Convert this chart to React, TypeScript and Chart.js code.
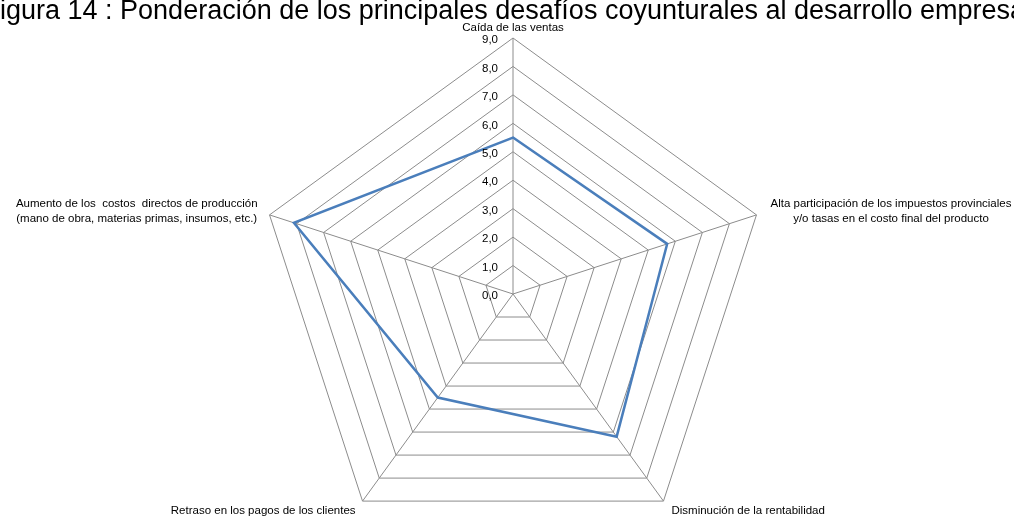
import React, { useEffect, useRef } from "react";
import { Chart, registerables } from "chart.js";

Chart.register(...registerables);

// Heading of the figure (the canvas edge crops its first and last letters)
const TITLE =
  "Figura 14 : Ponderación de los principales desafíos coyunturales al desarrollo empresarial";

// Axis categories, clockwise from the top; each entry holds the lines of its label
const categories: string[][] = [
  ["Caída de las ventas"],
  ["Alta participación de los impuestos provinciales", "y/o tasas en el costo final del producto"],
  ["Disminución de la rentabilidad"],
  ["Retraso en los pagos de los clientes"],
  ["Aumento de los  costos  directos de producción", "(mano de obra, materias primas, insumos, etc.)"],
];

// Weighting given to each challenge
const values: number[] = [5.5, 5.7, 6.2, 4.5, 8.1];

// Radial scale ticks
const tickValues: number[] = [0, 1, 2, 3, 4, 5, 6, 7, 8, 9];
const formatTick = (v: number) => v.toFixed(1).replace(".", ",");

const FONT = '"Liberation Sans", Arial, sans-serif';

// Draws the heading, the tick labels beside the vertical axis and the category labels
const annotations = {
  id: "annotations",
  afterDraw(chart: any) {
    const ctx: CanvasRenderingContext2D = chart.ctx;
    const scale = chart.scales.r;
    ctx.save();

    // heading
    ctx.font = `27px ${FONT}`;
    ctx.fillStyle = "#000";
    ctx.textAlign = "left";
    ctx.textBaseline = "alphabetic";
    const fWidth = ctx.measureText("F").width;
    ctx.fillText(TITLE, -fWidth, 19);

    // tick labels to the left of the first spoke
    ctx.font = `11.5px ${FONT}`;
    ctx.textAlign = "right";
    ctx.textBaseline = "middle";
    tickValues.forEach((v) => {
      const p = scale.getPointPositionForValue(0, v);
      ctx.fillText(formatTick(v), p.x - 15, p.y + 2);
    });

    // category labels around the outer polygon
    ctx.font = `11.5px ${FONT}`;
    ctx.textBaseline = "alphabetic";
    const lineH = 15;
    categories.forEach((lines, i) => {
      const p = scale.getPointPositionForValue(i, scale.max);
      const dx = p.x - scale.xCenter;
      const dy = p.y - scale.yCenter;
      if (Math.abs(dx) < 1) {
        ctx.textAlign = "center";
        ctx.fillText(lines[0], p.x, p.y - 7);
        return;
      }
      if (dy < 0) {
        // side vertices: a centred block of lines next to the vertex
        const blockW = Math.max(...lines.map((l) => ctx.measureText(l).width));
        const cx = dx > 0 ? p.x + 14 + blockW / 2 : p.x - 12 - blockW / 2;
        const y0 = p.y - 8 - ((lines.length - 2) * lineH) / 2;
        ctx.textAlign = "center";
        lines.forEach((l, k) => ctx.fillText(l, cx, y0 + k * lineH));
        return;
      }
      // lower vertices: text just below, running outward
      ctx.textAlign = dx > 0 ? "left" : "right";
      ctx.fillText(lines[0], dx > 0 ? p.x + 8 : p.x - 7, p.y + 12.5);
    });

    ctx.restore();
  },
};

export default function App() {
  const canvasRef = useRef<HTMLCanvasElement | null>(null);

  useEffect(() => {
    if (!canvasRef.current) return;
    const chart = new Chart(canvasRef.current, {
      type: "radar",
      data: {
        labels: categories,
        datasets: [
          {
            data: values,
            borderColor: "#4A7EBB",
            borderWidth: 2.5,
            backgroundColor: "transparent",
            fill: false,
            pointRadius: 0,
            pointHoverRadius: 0,
            tension: 0,
          },
        ],
      },
      options: {
        responsive: false,
        animation: false,
        layout: { padding: { left: 257, right: 244, top: 0, bottom: 0 } },
        plugins: {
          legend: { display: false },
          title: { display: false },
          tooltip: { enabled: false },
        },
        scales: {
          r: {
            min: 0,
            max: 9,
            ticks: { display: false, stepSize: 1 },
            pointLabels: { display: false },
            grid: { color: "#8c8c8c", lineWidth: 1, circular: false },
            angleLines: { color: "#8c8c8c", lineWidth: 1 },
          },
        },
      },
      plugins: [annotations],
    });
    return () => chart.destroy();
  }, []);

  return (
    <div
      style={{
        position: "fixed",
        left: 0,
        top: 0,
        width: 1014,
        height: 516,
        overflow: "hidden",
        background: "#fff",
      }}
    >
      <canvas ref={canvasRef} width={1014} height={588} style={{ display: "block" }} />
    </div>
  );
}
